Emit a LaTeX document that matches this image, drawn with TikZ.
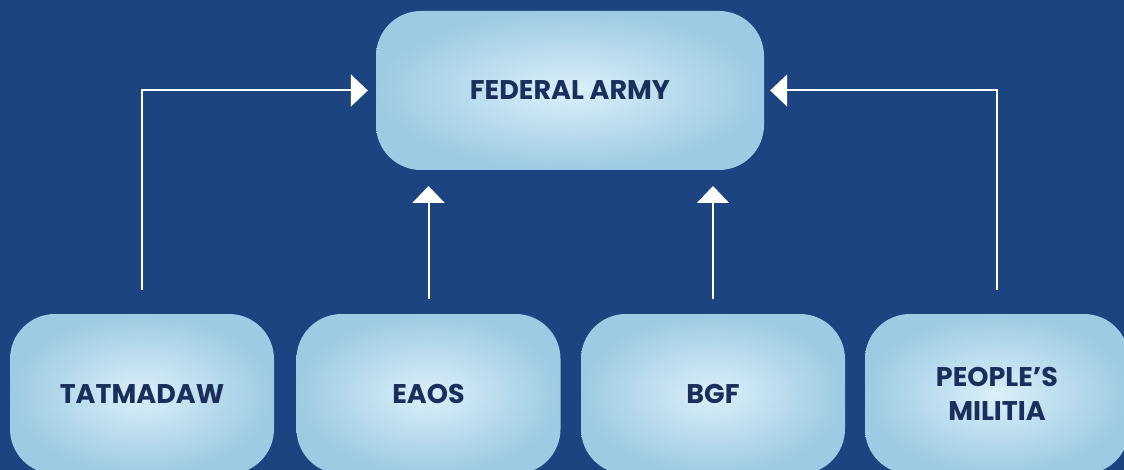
\documentclass[tikz,border=0pt]{standalone}
\usepackage{fontspec}
\setmainfont{Poppins}
\usetikzlibrary{arrows.meta,positioning,calc}
\definecolor{navybg}{HTML}{1C4480}
\definecolor{boxin}{HTML}{DCEFF9}
\definecolor{boxout}{HTML}{9CCBE3}
\definecolor{boxtext}{HTML}{1B2F5C}
\tikzset{unit/.style={rectangle, rounded corners=45pt, shading=radial, inner color=boxin, outer color=boxout, minimum width=264pt, minimum height=160pt, align=center, text=boxtext, font=\bfseries\fontsize{27}{34}\selectfont}, link/.style={draw=white, line width=2pt, -{Triangle[width=32pt,length=17pt]}}}

\begin{document}
\begin{tikzpicture}[x=1pt,y=1pt]
    \fill[navybg] (0,0) rectangle (1124,-470);
    \useasboundingbox (0,0) rectangle (1124,-470);
    \node[unit, minimum width=388pt, minimum height=159pt] (fed) at (570,-90.5) {FEDERAL ARMY};
    \node[unit] (tat) at (142,-394) {TATMADAW};
    \node[unit] (eaos) at (428.5,-394) {EAOS};
    \node[unit] (bgf) at (713,-394) {BGF};
    \node[unit] (mil) at (997,-394) {PEOPLE'S\\MILITIA};
    \draw[link] ([yshift=24pt]tat.north) |- ([xshift=-8pt]fed.west);
    \draw[link] ([yshift=24pt]mil.north) |- ([xshift=6pt]fed.east);
    \draw[link] (eaos.north |- 0,-299) -- (eaos.north |- 0,-186);
    \draw[link] (bgf.north |- 0,-299) -- (bgf.north |- 0,-186);
\end{tikzpicture}
\end{document}
